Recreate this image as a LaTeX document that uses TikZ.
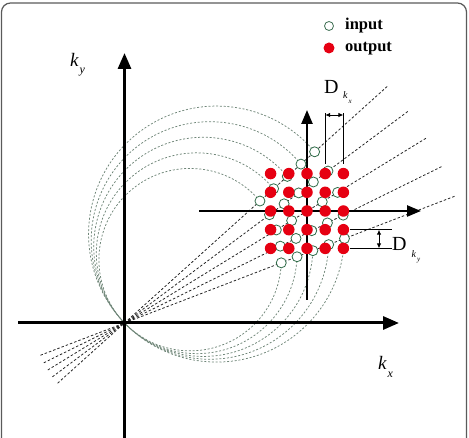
\documentclass[tikz,border=0pt]{standalone}
\usepackage{fontspec}
\setmainfont{Liberation Serif}
\usetikzlibrary{arrows.meta,calc}
\definecolor{outred}{HTML}{E60012}
\definecolor{ingreen}{HTML}{2F6B48}
\definecolor{orbitgray}{HTML}{6F8678}
\definecolor{framegray}{HTML}{5A5A5A}
\newcommand{\kidx}[4]{{\fontsize{#2}{#2}\selectfont\itshape k\hspace{1pt}\raisebox{#4}{\fontsize{#3}{#3}\selectfont #1}}}

\begin{document}
\begin{tikzpicture}[x=1pt,y=1pt,
  axis/.style={line width=3pt,-{Triangle[length=16pt,width=13pt]}},
  subaxis/.style={line width=2.4pt,-{Triangle[length=14pt,width=11pt]}},
  ray/.style={dash pattern=on 2.5pt off 2pt,line width=0.8pt,draw=black!85},
  orbit/.style={dash pattern=on 2pt off 1.8pt,line width=0.75pt,draw=orbitgray},
  inpt/.style={circle,draw=ingreen,fill=white,line width=0.8pt,minimum size=10pt,inner sep=0pt},
  outpt/.style={circle,fill=outred,minimum size=11.5pt,inner sep=0pt},
  dimline/.style={line width=0.9pt},
  dimarrow/.style={line width=0.9pt,{Latex[length=5pt,width=4.5pt]}-{Latex[length=5pt,width=4.5pt]}},
  lbl/.style={inner sep=0pt,anchor=base west}]
\useasboundingbox (0,0) rectangle (469,438);
\draw[framegray,line width=1.2pt,rounded corners=9pt] (1.5,-20) rectangle (466.5,435);

\coordinate (O) at (124.5,115);
\coordinate (P) at (307,227);
\coordinate (xa) at (18,115);  \coordinate (xb) at (399,115);
\coordinate (ya) at (124.5,-5); \coordinate (yb) at (124.5,385);
\coordinate (ua) at (199,227);  \coordinate (ub) at (421,227);
\coordinate (va) at (307,138);  \coordinate (vb) at (307,328);

\foreach \t in {21,26.25,31.5,36.75,42}
  \draw[ray] ($(O)+(\t+180:90)$) -- ($(O)+(\t:355)$);
\foreach \r in {91.2,100.4,109.6,118.8,128}
  \draw[orbit] ($(O)+(44:\r)+(40:\r)$) arc[start angle=40,end angle=358,radius=\r];

\draw[axis] (xa) -- (xb);
\draw[axis] (ya) -- (yb);
\draw[subaxis] (ua) -- (ub);
\draw[subaxis] (va) -- (vb);

\foreach \i in {0,...,4}
  \foreach \j in {0,...,4}{
    \pgfmathsetmacro\t{21+5.25*\i}
    \pgfmathsetmacro\r{91.2+9.2*\j}
    \node[inpt] (in-\i-\j) at ($(O)+(\t:{2*\r*cos(\t-44)})$) {};
  }
\foreach \i in {0,...,4}
  \foreach \j in {0,...,4}
    \node[outpt] (out-\i-\j) at ($(P)+({18.2*(\i-2)},{18.7*(\j-2)})$) {};

\draw[dimline] ($(out-3-4)+(0,9.6)$) coordinate (dxa) -- ++(0,51);
\draw[dimline] ($(out-4-4)+(0,9.6)$) coordinate (dxb) -- ++(0,51);
\draw[dimarrow] ($(out-3-4)+(0,58.6)$) -- ($(out-4-4)+(0,58.6)$);
\draw[dimline] ($(out-4-1)+(6.6,0)$) coordinate (dya) -- ++(42,0);
\draw[dimline] ($(out-4-0)+(6.6,0)$) coordinate (dyb) -- ++(42,0);
\draw[dimarrow] ($(out-4-1)+(35.6,0)$) -- ($(out-4-0)+(35.6,0)$);

\node[lbl] (dkx) at (324,344) {\fontsize{20}{20}\selectfont D};
\node[lbl] (dkxsub) at (343,339) {\kidx{x}{10}{7}{-5pt}};
\node[lbl] (dky) at (392,187) {\fontsize{20}{20}\selectfont D};
\node[lbl] (dkysub) at (411.5,180) {\kidx{y}{10}{7}{-4pt}};
\node[lbl] (kylbl) at (70,371) {\kidx{y}{19}{12}{-7pt}};
\node[lbl] (kxlbl) at (378,68) {\kidx{x}{19}{12}{-8pt}};

\node[inpt,draw=ingreen!80!gray,minimum size=9pt] (leg-in) at (329,412) {};
\node[outpt,minimum size=11pt] (leg-out) at (329,390) {};
\node[lbl] (leg-in-txt) at (345,408) {\fontsize{16.5}{16.5}\selectfont\bfseries input};
\node[lbl] (leg-out-txt) at (345,386) {\fontsize{16.5}{16.5}\selectfont\bfseries output};
\end{tikzpicture}
\end{document}
